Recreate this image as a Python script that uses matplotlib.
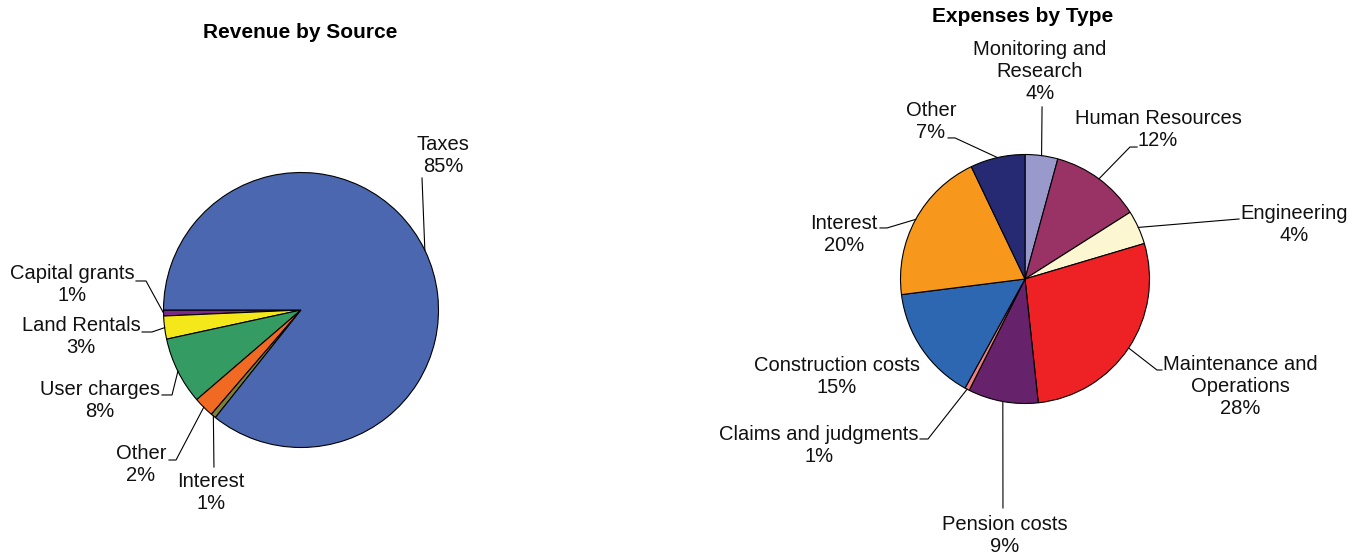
import numpy as np
import matplotlib
matplotlib.use("Agg")
import matplotlib.pyplot as plt

plt.rcParams['font.family'] = ['Liberation Sans', 'DejaVu Sans']

# revenue data
rev_names = ['Capital grants', 'Land Rentals', 'User charges', 'Other', 'Interest', 'Taxes']
rev_values = [0.7, 2.7, 7.9, 2.4, 0.6, 85.7]
rev_pct = ['1%', '3%', '8%', '2%', '1%', '85%']

# expense data
exp_names = ['Monitoring and\nResearch', 'Human Resources', 'Engineering',
             'Maintenance and\nOperations', 'Pension costs', 'Claims and judgments',
             'Construction costs', 'Interest', 'Other']
exp_values = [4.25, 11.75, 4.4, 27.9, 9.1, 0.6, 15.0, 19.9, 7.1]
exp_pct = ['4%', '12%', '4%', '28%', '9%', '1%', '15%', '20%', '7%']

rev_colors = ['#7B2A8C', '#F5E81A', '#349B63', '#F06A23', '#7F7F3A', '#4A67AF']
exp_colors = ['#9999CC', '#993366', '#FCF7D0', '#EE2225', '#66226A',
              '#F08080', '#2E67B1', '#F7981D', '#262A72']

# label layout (in pie-radius units): text centre, elbow, tail end (None = no tail)
rev_layout = [
    ((-1.665, 0.182), (-1.127, 0.211), (-1.20, 0.211)),
    ((-1.600, -0.196), (-1.084, -0.160), (-1.156, -0.160)),
    ((-1.462, -0.655), (-0.938, -0.618), (-1.011, -0.618)),
    ((-1.164, -1.127), (-0.909, -1.091), (-0.960, -1.091)),
    ((-0.655, -1.324), (-0.633, -1.142), None),
    ((1.033, 1.127), (0.880, 0.960), None),
]
exp_layout = [
    ((0.120, 1.667), (0.137, 1.382), None),
    ((1.068, 1.197), (0.843, 1.060), (0.900, 1.060)),
    ((2.161, 0.434), (1.719, 0.482), None),
    ((1.727, -0.867), (1.060, -0.731), (1.100, -0.731)),
    ((-0.161, -2.060), (-0.177, -1.839), None),
    ((-1.655, -1.341), (-0.779, -1.285), (-0.843, -1.285)),
    ((-1.510, -0.783), None, None),
    ((-1.454, 0.361), (-1.108, 0.410), (-1.165, 0.410)),
    ((-0.755, 1.269), (-0.562, 1.133), (-0.618, 1.133)),
]

W, H = 1363, 556
fig = plt.figure(figsize=(W / 100, H / 100), dpi=100)


def draw_pie(cx, cy, r, half_w, values, colors, names, pcts, layout, start, ccw):
    ax = fig.add_axes([(cx - half_w) / W, 0, 2 * half_w / W, 1])
    ax.axis('off')
    wedges, _ = ax.pie(values, colors=colors, startangle=start, counterclock=ccw,
                       radius=1, wedgeprops=dict(edgecolor='black', linewidth=0.8))
    ax.set_xlim(-half_w / r, half_w / r)
    ax.set_ylim(-(H - cy) / r, cy / r)
    for w, name, pct, (txt, elbow, tail) in zip(wedges, names, pcts, layout):
        ax.text(txt[0], txt[1], name + '\n' + pct, ha='center', va='center',
                fontsize=14.5, linespacing=1.2, color='#111111')
        if elbow is None:
            continue
        mid = np.deg2rad((w.theta1 + w.theta2) / 2)
        xs = [np.cos(mid), elbow[0]]
        ys = [np.sin(mid), elbow[1]]
        if tail is not None:
            xs.append(tail[0])
            ys.append(tail[1])
        ax.plot(xs, ys, color='black', lw=0.8)
    return ax


draw_pie(301, 310, 137.5, 301, rev_values, rev_colors, rev_names, rev_pct,
         rev_layout, 180, True)
draw_pie(1025, 279, 124.5, 338, exp_values, exp_colors, exp_names, exp_pct,
         exp_layout, 90, False)

fig.text(300 / W, 1 - 33 / H, 'Revenue by Source', ha='center', va='center',
         fontsize=15, fontweight='bold')
fig.text(1023 / W, 1 - 17 / H, 'Expenses by Type', ha='center', va='center',
         fontsize=15, fontweight='bold')

fig.savefig('out.png', dpi=100)
